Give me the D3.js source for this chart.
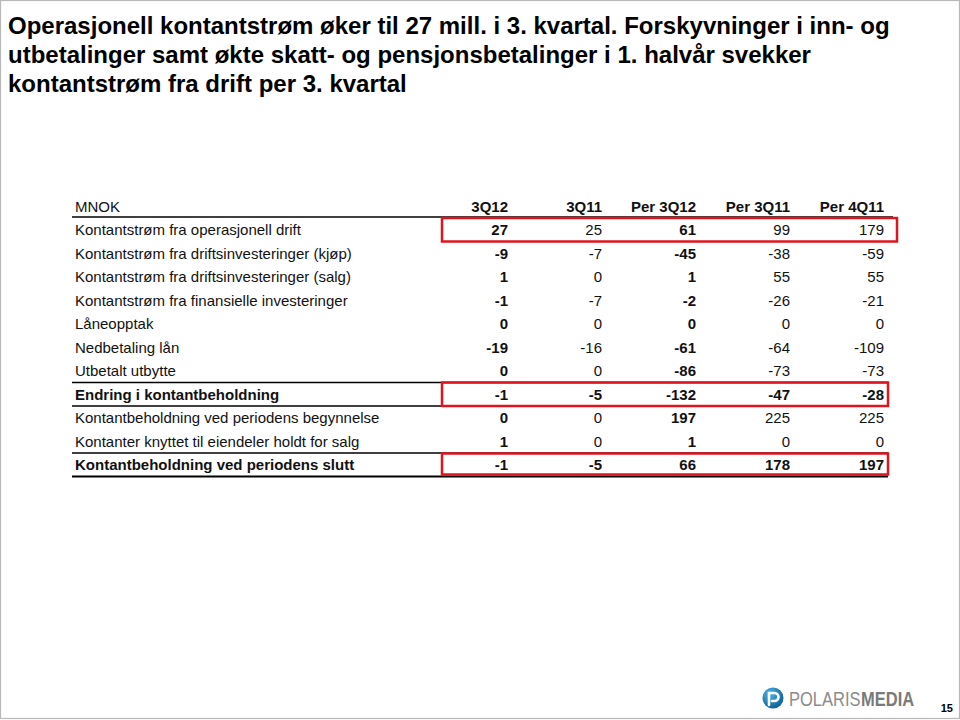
<!DOCTYPE html>
<html>
<head>
<meta charset="utf-8">
<script src="https://cdn.jsdelivr.net/npm/d3@7"></script>
<style>
  html, body { margin: 0; padding: 0; background: #fff; }
  svg { display: block; font-family: "Liberation Sans", Arial, sans-serif; }
</style>
</head>
<body>
<script>
// ---------- data ----------
const titleLines = [
  "Operasjonell kontantstrøm øker til 27 mill. i 3. kvartal. Forskyvninger i inn- og",
  "utbetalinger samt økte skatt- og pensjonsbetalinger i 1. halvår svekker",
  "kontantstrøm fra drift per 3. kvartal"
];
const unitLabel = "MNOK";
const columns = ["3Q12", "3Q11", "Per 3Q12", "Per 3Q11", "Per 4Q11"];
const rowLabels = [
  "Kontantstrøm fra operasjonell drift",
  "Kontantstrøm fra driftsinvesteringer (kjøp)",
  "Kontantstrøm fra driftsinvesteringer (salg)",
  "Kontantstrøm fra finansielle investeringer",
  "Låneopptak",
  "Nedbetaling lån",
  "Utbetalt utbytte",
  "Endring i kontantbeholdning",
  "Kontantbeholdning ved periodens begynnelse",
  "Kontanter knyttet til eiendeler holdt for salg",
  "Kontantbeholdning ved periodens slutt"
];
const col3Q12   = [27, -9, 1, -1, 0, -19, 0, -1, 0, 1, -1];
const col3Q11   = [25, -7, 0, -7, 0, -16, 0, -5, 0, 0, -5];
const colPer3Q12 = [61, -45, 1, -2, 0, -61, -86, -132, 197, 1, 66];
const colPer3Q11 = [99, -38, 55, -26, 0, -64, -73, -47, 225, 0, 178];
const colPer4Q11 = [179, -59, 55, -21, 0, -109, -73, -28, 225, 0, 197];
const boldRows = [7, 10];          // total rows, fully bold
const boldColumns = ["3Q12", "Per 3Q12"];
const highlightedRows = [0, 7, 10]; // red frames
const pageNumber = "15";

const values = [col3Q12, col3Q11, colPer3Q12, colPer3Q11, colPer4Q11];

// ---------- layout ----------
const W = 960, H = 720;
const svg = d3.select("body").append("svg").attr("width", W).attr("height", H);

svg.append("rect").attr("x", 0.5).attr("y", 0.5).attr("width", W - 1).attr("height", 718)
  .attr("fill", "#fff").attr("stroke", "#b8b8b8").attr("stroke-width", 1.2);

// title
svg.append("g").selectAll("text").data(titleLines).join("text")
  .attr("x", 8).attr("y", (d, i) => 34 + i * 29)
  .attr("font-size", 24).attr("font-weight", "bold").attr("fill", "#000")
  .text(d => d);

// scales
const x = d3.scalePoint().domain(columns).range([508, 884]);
const y = d3.scaleBand().domain(d3.range(rowLabels.length)).range([218, 218 + 23.5 * rowLabels.length]);
const labelX = 75, lineX0 = 72;
const fs = 15;
const txt = "#111";

// header
const head = svg.append("g").attr("fill", txt);
head.append("text").attr("x", labelX).attr("y", 212).attr("font-size", fs).text(unitLabel);
head.selectAll("text.col").data(columns).join("text").attr("class", "col")
  .attr("x", d => x(d)).attr("y", 212).attr("text-anchor", "end")
  .attr("font-size", fs).attr("font-weight", "bold").text(d => d);

// rows
const rows = svg.append("g").attr("fill", txt).selectAll("g").data(rowLabels).join("g")
  .attr("transform", (d, i) => `translate(0,${y(i) + 17})`);
rows.append("text").attr("x", labelX).attr("font-size", fs)
  .attr("font-weight", (d, i) => boldRows.includes(i) ? "bold" : "normal")
  .text(d => d);
rows.each(function(d, i) {
  d3.select(this).selectAll("text.v").data(columns).join("text").attr("class", "v")
    .attr("x", c => x(c)).attr("text-anchor", "end").attr("font-size", fs)
    .attr("font-weight", c => (boldRows.includes(i) || boldColumns.includes(c)) ? "bold" : "normal")
    .text((c, j) => values[j][i]);
});

// rules
const rules = [
  {y: 217, x1: 893, w: 1.6},
  {y: y(7), x1: 888, w: 1.3},
  {y: y(7) + y.bandwidth(), x1: 888, w: 1.3},
  {y: y(10), x1: 888, w: 1.3},
  {y: y(10) + y.bandwidth(), x1: 888, w: 2}
];
svg.append("g").selectAll("line").data(rules).join("line")
  .attr("x1", lineX0).attr("x2", d => d.x1).attr("y1", d => d.y).attr("y2", d => d.y)
  .attr("stroke", "#000").attr("stroke-width", d => d.w);

// red highlight frames
svg.append("g").selectAll("rect").data(highlightedRows).join("rect")
  .attr("x", 442).attr("y", i => y(i) + (i === 10 ? 0.5 : 0))
  .attr("width", i => i === 0 ? 455 : 446)
  .attr("height", i => i === 10 ? y.bandwidth() - 2.5 : y.bandwidth())
  .attr("fill", "none").attr("stroke", "#e0141e").attr("stroke-width", 2.5);

// logo
const logo = svg.append("g").attr("transform", "translate(773,698)");
const grad = svg.append("defs").append("radialGradient").attr("id", "lg")
  .attr("cx", "35%").attr("cy", "30%").attr("r", "75%");
grad.append("stop").attr("offset", "0%").attr("stop-color", "#4fb3e6");
grad.append("stop").attr("offset", "100%").attr("stop-color", "#0a5f96");
logo.append("circle").attr("r", 10.5).attr("fill", "url(#lg)");
logo.append("path")
  .attr("d", "M-4,7 L-4,-5 L1.5,-5 A4,4 0 0 1 1.5,3 L-1,3")
  .attr("fill", "none").attr("stroke", "#fff").attr("stroke-width", 2.6).attr("stroke-linecap", "round");
svg.append("text").attr("transform", "translate(789,705.5) scale(1,1.18)")
  .attr("font-size", 16.5).attr("fill", "#8c8c8c").text("POLARIS");
svg.append("text").attr("transform", "translate(861,705.5) scale(1,1.18)")
  .attr("font-size", 16.5).attr("fill", "#7a7a7a").attr("font-weight", "bold").text("MEDIA");

svg.append("text").attr("x", 953).attr("y", 712).attr("text-anchor", "end")
  .attr("font-size", 11).attr("font-weight", "bold").text(pageNumber);
</script>
</body>
</html>
